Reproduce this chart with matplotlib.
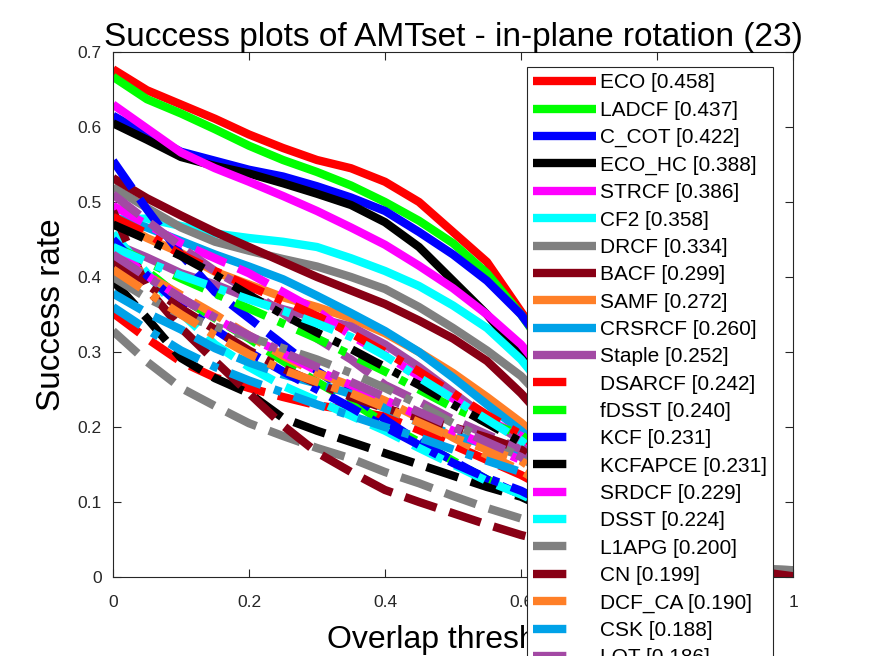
import numpy as np
import matplotlib
matplotlib.use("Agg")
import matplotlib.pyplot as plt
from matplotlib.lines import Line2D

plt.rcParams['font.family'] = ['Liberation Sans', 'DejaVu Sans']

# overlap thresholds
thr = np.linspace(0, 1, 21)

# solid group
ECO     = [0.677,0.649,0.630,0.611,0.590,0.572,0.556,0.545,0.527,0.500,0.460,0.420,0.354,0.290,0.225,0.165,0.110,0.068,0.035,0.004,0.000]
LADCF   = [0.667,0.637,0.618,0.597,0.575,0.556,0.540,0.522,0.500,0.475,0.445,0.405,0.350,0.285,0.220,0.160,0.105,0.063,0.032,0.004,0.000]
C_COT   = [0.615,0.590,0.567,0.555,0.543,0.534,0.521,0.506,0.488,0.460,0.430,0.395,0.350,0.290,0.228,0.168,0.112,0.068,0.034,0.004,0.000]
ECO_HC  = [0.605,0.583,0.560,0.548,0.538,0.525,0.511,0.496,0.473,0.440,0.395,0.350,0.295,0.235,0.178,0.126,0.082,0.048,0.024,0.003,0.000]
STRCF   = [0.630,0.598,0.566,0.545,0.527,0.508,0.488,0.466,0.443,0.415,0.385,0.350,0.310,0.255,0.195,0.140,0.092,0.055,0.028,0.003,0.000]
CF2     = [0.476,0.478,0.468,0.458,0.452,0.447,0.440,0.425,0.408,0.388,0.362,0.332,0.290,0.235,0.178,0.127,0.083,0.049,0.025,0.003,0.000]
DRCF    = [0.520,0.492,0.466,0.447,0.435,0.424,0.414,0.400,0.384,0.360,0.332,0.302,0.268,0.220,0.168,0.120,0.080,0.048,0.024,0.003,0.000]
BACF    = [0.532,0.505,0.482,0.460,0.440,0.420,0.400,0.382,0.364,0.342,0.318,0.288,0.245,0.195,0.147,0.104,0.068,0.040,0.020,0.003,0.000]
SAMF    = [0.478,0.452,0.432,0.407,0.390,0.373,0.360,0.345,0.325,0.300,0.272,0.240,0.206,0.165,0.125,0.088,0.057,0.034,0.017,0.002,0.000]
CRSRCF  = [0.480,0.466,0.448,0.430,0.414,0.397,0.375,0.352,0.328,0.300,0.266,0.230,0.195,0.155,0.116,0.082,0.053,0.031,0.015,0.002,0.000]
Staple  = [0.445,0.426,0.405,0.390,0.372,0.357,0.345,0.334,0.310,0.280,0.246,0.212,0.182,0.145,0.108,0.076,0.049,0.029,0.014,0.002,0.000]
# dashed group
DSARCF  = [0.352,0.318,0.287,0.266,0.252,0.240,0.229,0.222,0.214,0.196,0.176,0.156,0.136,0.112,0.087,0.063,0.042,0.025,0.012,0.002,0.000]
fDSST   = [0.440,0.408,0.372,0.345,0.318,0.288,0.260,0.234,0.205,0.180,0.155,0.130,0.110,0.090,0.070,0.051,0.035,0.021,0.010,0.002,0.000]
KCF     = [0.555,0.490,0.430,0.380,0.345,0.310,0.275,0.245,0.210,0.180,0.155,0.130,0.110,0.090,0.070,0.051,0.035,0.021,0.010,0.002,0.000]
KCFAPCE = [0.395,0.345,0.292,0.265,0.245,0.212,0.195,0.180,0.165,0.150,0.135,0.120,0.107,0.086,0.066,0.048,0.033,0.020,0.010,0.002,0.000]
SRDCF   = [0.495,0.470,0.445,0.425,0.405,0.380,0.355,0.322,0.296,0.268,0.238,0.210,0.188,0.150,0.112,0.080,0.052,0.031,0.015,0.002,0.000]
DSST    = [0.458,0.405,0.352,0.310,0.280,0.255,0.235,0.215,0.195,0.172,0.150,0.128,0.110,0.089,0.069,0.050,0.034,0.021,0.010,0.002,0.000]
L1APG   = [0.328,0.287,0.252,0.228,0.205,0.188,0.172,0.158,0.140,0.125,0.108,0.092,0.078,0.062,0.048,0.036,0.026,0.018,0.014,0.011,0.009]
CN      = [0.488,0.385,0.332,0.288,0.245,0.202,0.166,0.140,0.116,0.100,0.085,0.070,0.056,0.045,0.035,0.027,0.020,0.015,0.011,0.007,0.001]
DCF_CA  = [0.430,0.402,0.376,0.350,0.322,0.295,0.272,0.255,0.235,0.212,0.186,0.163,0.142,0.114,0.087,0.063,0.042,0.025,0.012,0.002,0.000]
CSK     = [0.378,0.352,0.330,0.305,0.286,0.270,0.258,0.244,0.225,0.206,0.190,0.176,0.163,0.130,0.098,0.070,0.046,0.027,0.013,0.002,0.000]
LOT     = [0.510,0.475,0.440,0.408,0.382,0.352,0.318,0.290,0.256,0.234,0.210,0.190,0.170,0.136,0.102,0.073,0.048,0.028,0.014,0.002,0.000]
# dash-dot group (their legend rows fall below the figure edge)
r3    = [0.480,0.458,0.430,0.408,0.388,0.368,0.348,0.325,0.300,0.274,0.245,0.216,0.190,0.152,0.115,0.082,0.054,0.032,0.016,0.002,0.000]
g3    = [0.442,0.420,0.398,0.378,0.358,0.338,0.318,0.296,0.274,0.250,0.226,0.206,0.190,0.152,0.115,0.082,0.054,0.032,0.016,0.002,0.000]
b3    = [0.450,0.402,0.362,0.330,0.300,0.274,0.250,0.226,0.200,0.176,0.152,0.132,0.115,0.092,0.070,0.051,0.034,0.020,0.010,0.002,0.000]
k3    = [0.470,0.450,0.428,0.403,0.376,0.350,0.326,0.304,0.280,0.256,0.230,0.205,0.180,0.144,0.108,0.077,0.050,0.030,0.015,0.002,0.000]
m3    = [0.440,0.402,0.372,0.345,0.320,0.298,0.275,0.256,0.236,0.215,0.195,0.175,0.156,0.125,0.094,0.067,0.044,0.026,0.013,0.002,0.000]
c3    = [0.440,0.420,0.402,0.386,0.370,0.355,0.338,0.320,0.295,0.266,0.238,0.210,0.182,0.146,0.110,0.078,0.051,0.030,0.015,0.002,0.000]
gray3 = [0.400,0.372,0.350,0.334,0.320,0.305,0.290,0.272,0.252,0.230,0.205,0.182,0.160,0.128,0.096,0.068,0.045,0.027,0.013,0.002,0.000]
dr3   = [0.420,0.390,0.358,0.330,0.302,0.278,0.258,0.240,0.225,0.212,0.200,0.186,0.170,0.136,0.102,0.073,0.048,0.028,0.014,0.002,0.000]
o3    = [0.410,0.380,0.350,0.322,0.297,0.276,0.260,0.245,0.226,0.206,0.186,0.170,0.155,0.124,0.093,0.066,0.043,0.026,0.013,0.002,0.000]
lb3   = [0.360,0.330,0.302,0.280,0.262,0.246,0.230,0.215,0.200,0.186,0.170,0.155,0.140,0.112,0.084,0.060,0.040,0.024,0.012,0.002,0.000]
p3    = [0.430,0.400,0.372,0.346,0.322,0.300,0.280,0.260,0.240,0.220,0.200,0.180,0.160,0.128,0.096,0.068,0.045,0.027,0.013,0.002,0.000]

names = ['ECO','LADCF','C_COT','ECO_HC','STRCF','CF2','DRCF','BACF','SAMF','CRSRCF','Staple',
         'DSARCF','fDSST','KCF','KCFAPCE','SRDCF','DSST','L1APG','CN','DCF_CA','CSK','LOT']
scores = [0.458,0.437,0.422,0.388,0.386,0.358,0.334,0.299,0.272,0.260,0.252,
          0.242,0.240,0.231,0.231,0.229,0.224,0.200,0.199,0.190,0.188,0.186]
curves = [ECO,LADCF,C_COT,ECO_HC,STRCF,CF2,DRCF,BACF,SAMF,CRSRCF,Staple,
          DSARCF,fDSST,KCF,KCFAPCE,SRDCF,DSST,L1APG,CN,DCF_CA,CSK,LOT]
extra = [r3,g3,b3,k3,m3,c3,gray3,dr3,o3,lb3,p3]

colors = [(1,0,0),(0,1,0),(0,0,1),(0,0,0),(1,0,1),(0,1,1),(0.5,0.5,0.5),
          (136/255,0,21/255),(1,127/255,39/255),(0,162/255,232/255),(163/255,73/255,164/255)]

fig = plt.figure(figsize=(8.75, 6.56), dpi=100)
ax = fig.add_axes([113/875, 79/656, 680/875, 525/656])

lw = 6
handles = []
for i, (nm, sc, y) in enumerate(zip(names, scores, curves)):
    col = colors[i % 11]
    if i < 11:
        ax.plot(thr, y, color=col, lw=lw, solid_capstyle='butt')
        handles.append(Line2D([], [], color=col, lw=lw, solid_capstyle='butt'))
    else:
        ax.plot(thr, y, color=col, lw=lw, dashes=(4, 1.6), dash_capstyle='butt')
        handles.append(Line2D([], [], color=col, lw=lw, dashes=(4, 6), dash_capstyle='butt'))
for i, y in enumerate(extra):
    ax.plot(thr, y, color=colors[i], lw=lw, dashes=(4, 1.6, 0.9, 1.6), dash_capstyle='butt')
# the last two drawn on top near x = 1
ax.plot(thr[-3:], L1APG[-3:], color=colors[6], lw=lw, dashes=(4, 1.6), dash_capstyle='butt')
ax.plot(thr[-3:], CN[-3:], color=colors[7], lw=lw, dashes=(4, 1.6), dash_capstyle='butt')

ax.set_xlim(0, 1)
ax.set_ylim(0, 0.7)
ax.set_xticks([0, 0.2, 0.4, 0.6, 0.8, 1])
ax.set_xticklabels(['0', '0.2', '0.4', '0.6', '0.8', '1'])
ax.set_yticks([0, 0.1, 0.2, 0.3, 0.4, 0.5, 0.6, 0.7])
ax.set_yticklabels(['0', '0.1', '0.2', '0.3', '0.4', '0.5', '0.6', '0.7'])
ax.tick_params(direction='in', length=6, width=0.8, top=True, right=True,
               labelsize=12.5, colors='#262626')
ax.tick_params(axis='x', pad=13)
ax.tick_params(axis='y', pad=8)
for s in ax.spines.values():
    s.set_color('#262626')
    s.set_linewidth(0.8)

ax.set_title('Success plots of AMTset - in-plane rotation (23)', fontsize=24, pad=4)
ax.set_xlabel('Overlap threshold', fontsize=23, labelpad=11)
ax.set_ylabel('Success rate', fontsize=24, labelpad=8)

labels = ['%s [%.3f]' % (n, s) for n, s in zip(names, scores)]
leg = ax.legend(handles, labels, loc='upper left', bbox_to_anchor=(0.609, 0.971),
                borderaxespad=0, fontsize=15, handlelength=3.0, handletextpad=0.2,
                labelspacing=0.4, borderpad=0.3, fancybox=False, framealpha=1)
leg.get_frame().set_edgecolor('#262626')
leg.get_frame().set_linewidth(0.8)

fig.savefig('out.png', dpi=100)
